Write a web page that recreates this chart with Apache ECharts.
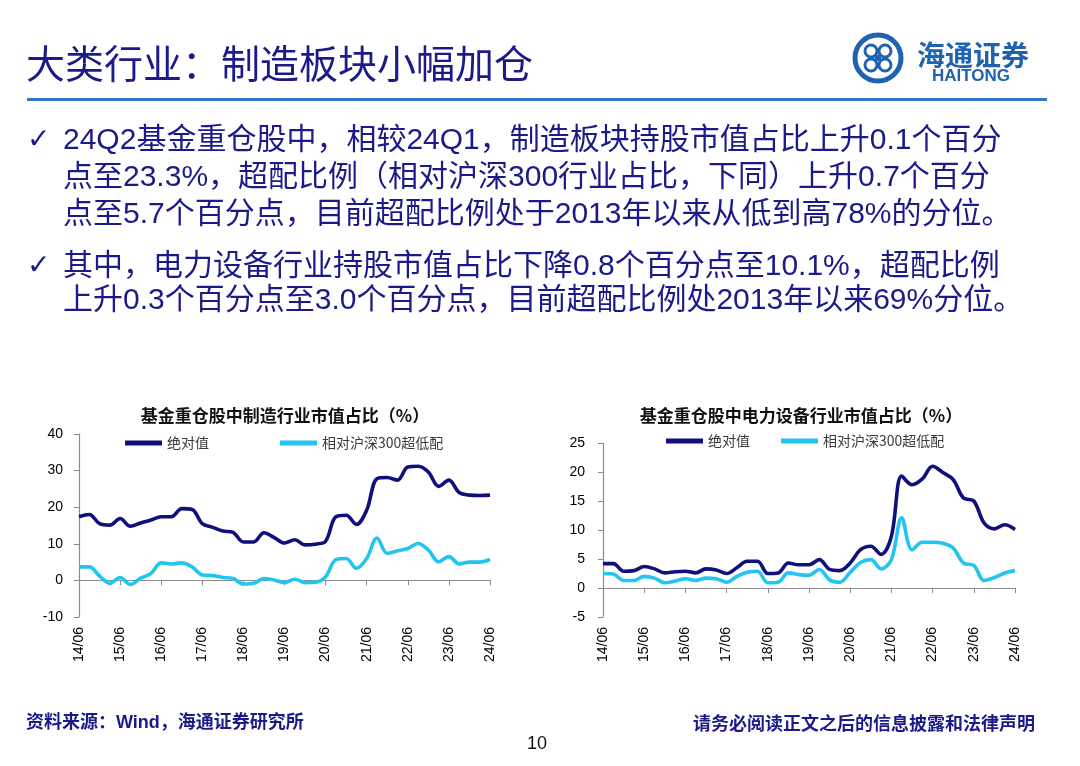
<!DOCTYPE html>
<html>
<head>
<meta charset="utf-8">
<script src="https://cdn.jsdelivr.net/npm/echarts@6/dist/echarts.min.js"></script>
<style>
html,body{margin:0;padding:0;background:#fff;}
#main{width:1080px;height:766px;}
</style>
</head>
<body>
<div id="main"></div>
<script>
// ---------- data ----------
var quarters = ['14/06','14/09','14/12','15/03','15/06','15/09','15/12','16/03','16/06','16/09','16/12','17/03','17/06','17/09','17/12','18/03','18/06','18/09','18/12','19/03','19/06','19/09','19/12','20/03','20/06','20/09','20/12','21/03','21/06','21/09','21/12','22/03','22/06','22/09','22/12','23/03','23/06','23/09','23/12','24/03','24/06'];

var mfgAbs = [17.4,18.0,15.5,15.1,16.9,14.8,15.7,16.5,17.4,17.4,19.6,19.4,15.5,14.5,13.5,13.1,10.5,10.5,13.0,11.7,10.2,11.1,9.7,9.9,10.7,17.4,17.8,15.3,19.2,27.8,28.1,27.4,31.0,31.2,29.6,25.7,27.4,24.0,23.3,23.2,23.3];
var mfgRel = [3.7,3.7,1.2,-0.8,0.8,-1.1,0.6,1.9,4.8,4.5,4.8,3.7,1.5,1.3,0.8,0.5,-1.0,-0.8,0.5,0.1,-0.6,0.3,-0.6,-0.5,1.0,5.7,6.0,3.3,6.0,11.6,7.4,8.1,8.7,10.1,8.3,5.1,6.5,4.5,5.0,5.0,5.7];

var elecAbs = [4.2,4.2,2.9,3.0,3.7,3.3,2.6,2.8,2.9,2.6,3.3,3.1,2.5,3.5,4.6,4.6,2.5,2.6,4.3,4.0,4.0,4.9,3.2,3.0,4.3,6.6,7.2,5.8,8.9,19.3,17.8,18.8,21.0,19.9,18.7,15.5,15.0,11.2,10.2,10.9,10.1];
var elecRel = [2.5,2.4,1.3,1.3,2.0,1.7,0.9,1.2,1.6,1.3,1.7,1.6,1.0,2.0,2.7,2.9,0.9,1.0,2.6,2.3,2.2,3.2,1.4,1.0,2.7,4.4,4.9,3.3,4.9,12.1,6.6,7.9,7.9,7.7,6.9,4.3,3.9,1.3,1.8,2.6,3.0];

var seriesNames = ['绝对值','相对沪深300超低配'];
var chartTitles = ['基金重仓股中制造行业市值占比（%）','基金重仓股中电力设备行业市值占比（%）'];

var bulletLines = [
  '24Q2基金重仓股中，相较24Q1，制造板块持股市值占比上升0.1个百分',
  '点至23.3%，超配比例（相对沪深300行业占比，下同）上升0.7个百分',
  '点至5.7个百分点，目前超配比例处于2013年以来从低到高78%的分位。',
  '其中，电力设备行业持股市值占比下降0.8个百分点至10.1%，超配比例',
  '上升0.3个百分点至3.0个百分点，目前超配比例处2013年以来69%分位。'
];

// ---------- styles ----------
var NAVY = '#0f0f7d';
var CYAN = '#22c4f0';
var TEXTBLUE = '#1a1a8a';
var AX = '#8c8c8c';
var latinFont = '"Liberation Sans", Arial, "Noto Sans CJK SC", sans-serif';
var cjkFont = '"Noto Sans CJK SC", "Liberation Sans", sans-serif';

var chart = echarts.init(document.getElementById('main'), null, {renderer: 'canvas'});

function txt(text, x, y, size, color, opts) {
  opts = opts || {};
  return {
    type: 'text', x: x, y: y, silent: true,
    style: {
      text: text,
      fill: color,
      fontSize: size,
      fontFamily: opts.family || cjkFont,
      fontWeight: opts.weight || 'normal',
      align: opts.align || 'left', textAlign: opts.align || 'left',
      verticalAlign: 'middle', textVerticalAlign: 'middle'
    }
  };
}

var graphics = [];
// title
graphics.push(txt('大类行业：制造板块小幅加仓', 26, 63, 39, TEXTBLUE));
// rule under title
graphics.push({type:'rect', silent:true, shape:{x:27, y:98, width:1020, height:3}, style:{fill:'#2f78c2'}});
// logo
graphics.push({type:'circle', silent:true, shape:{cx:878, cy:58, r:23}, style:{fill:'none', stroke:'#1f63b0', lineWidth:5}});
graphics.push({type:'circle', silent:true, shape:{cx:871, cy:51, r:6}, style:{fill:'none', stroke:'#1f63b0', lineWidth:3}});
graphics.push({type:'circle', silent:true, shape:{cx:885, cy:51, r:6}, style:{fill:'none', stroke:'#1f63b0', lineWidth:3}});
graphics.push({type:'circle', silent:true, shape:{cx:871, cy:65, r:6}, style:{fill:'none', stroke:'#1f63b0', lineWidth:3}});
graphics.push({type:'circle', silent:true, shape:{cx:885, cy:65, r:6}, style:{fill:'none', stroke:'#1f63b0', lineWidth:3}});
graphics.push({type:'rect', silent:true, shape:{x:875, y:55, width:6, height:6}, style:{fill:'#1f63b0'}});
graphics.push(txt('海通证券', 917, 55, 28, '#1f63b0', {weight:'bold'}));
graphics.push(txt('HAITONG', 971, 76, 17, '#1f63b0', {weight:'bold', family: latinFont, align:'center'}));

// bullets
var lineYs = [141, 178, 215, 267, 301];
graphics.push(txt('✓', 27, 141, 28, TEXTBLUE, {family:'"DejaVu Sans", sans-serif', weight:'bold'}));
graphics.push(txt('✓', 27, 267, 28, TEXTBLUE, {family:'"DejaVu Sans", sans-serif', weight:'bold'}));
for (var i = 0; i < bulletLines.length; i++) {
  graphics.push(txt(bulletLines[i], 63, lineYs[i], 30, TEXTBLUE, {family: latinFont}));
}

// chart titles
graphics.push(txt(chartTitles[0], 285, 416, 17, '#111', {weight:'bold', align:'center'}));
graphics.push(txt(chartTitles[1], 801, 416, 17, '#111', {weight:'bold', align:'center'}));

// footer
graphics.push(txt('资料来源：Wind，海通证券研究所', 26, 723, 18, TEXTBLUE, {weight:'bold', family: latinFont}));
graphics.push(txt('请务必阅读正文之后的信息披露和法律声明', 1035, 723, 18, TEXTBLUE, {weight:'bold', align:'right'}));
graphics.push(txt('10', 537, 744, 18, '#111', {family: latinFont, align:'center'}));

function xAxes(gridIndex) {
  return [
    {
      type: 'category', gridIndex: gridIndex, data: quarters, boundaryGap: false, position: 'bottom',
      axisLine: {show: false, onZero: false}, axisTick: {show: false},
      axisLabel: {interval: 3, rotate: 90, margin: 10, fontSize: 14, color: '#000', fontFamily: latinFont}
    },
    {
      type: 'category', gridIndex: gridIndex, data: quarters, boundaryGap: false, position: 'bottom',
      axisLine: {show: true, onZero: true, lineStyle: {color: AX, width: 1.2}},
      axisTick: {show: true, interval: 3, length: 5, lineStyle: {color: AX}},
      axisLabel: {show: false}
    }
  ];
}

function yAxis(gridIndex, min, max, step, margin) {
  return {
    type: 'value', gridIndex: gridIndex, min: min, max: max, interval: step,
    axisLine: {show: true, lineStyle: {color: AX, width: 1.2}},
    axisTick: {show: true, length: 5, lineStyle: {color: AX}},
    splitLine: {show: false},
    axisLabel: {fontSize: 14, color: '#000', margin: margin, fontFamily: latinFont}
  };
}

function lineSeries(name, data, color, xi, yi) {
  return {
    name: name, type: 'line', data: data, xAxisIndex: xi, yAxisIndex: yi,
    smooth: 0.35, symbol: 'none', color: color,
    lineStyle: {width: 3.6, color: color}, itemStyle: {color: color},
    animation: false
  };
}

var legendBase = {
  orient: 'horizontal', icon: 'rect', itemWidth: 37, itemHeight: 5,
  textStyle: {fontSize: 14, color: '#3a3a3a', fontFamily: cjkFont},
  selectedMode: false
};

var option = {
  backgroundColor: '#fff',
  animation: false,
  grid: [
    {left: 79, right: 590, top: 434, bottom: 149},
    {left: 603, right: 65, top: 443, bottom: 149}
  ],
  xAxis: xAxes(0).concat(xAxes(1)),
  yAxis: [
    yAxis(0, -10, 40, 10, 16),
    yAxis(1, -5, 25, 5, 18)
  ],
  legend: [
    Object.assign({}, legendBase, {left: 120, top: 431, itemGap: 71, data: [
      {name: seriesNames[0]}, {name: seriesNames[1]}
    ]}),
    Object.assign({}, legendBase, {left: 661, top: 429, itemGap: 31, data: [
      {name: seriesNames[0] + ' '}, {name: seriesNames[1] + ' '}
    ], formatter: function (n) { return n.trim(); }})
  ],
  series: [
    lineSeries(seriesNames[0], mfgAbs, NAVY, 0, 0),
    lineSeries(seriesNames[1], mfgRel, CYAN, 0, 0),
    lineSeries(seriesNames[0] + ' ', elecAbs, NAVY, 2, 1),
    lineSeries(seriesNames[1] + ' ', elecRel, CYAN, 2, 1)
  ],
  graphic: graphics
};
chart.setOption(option);
</script>
</body>
</html>
